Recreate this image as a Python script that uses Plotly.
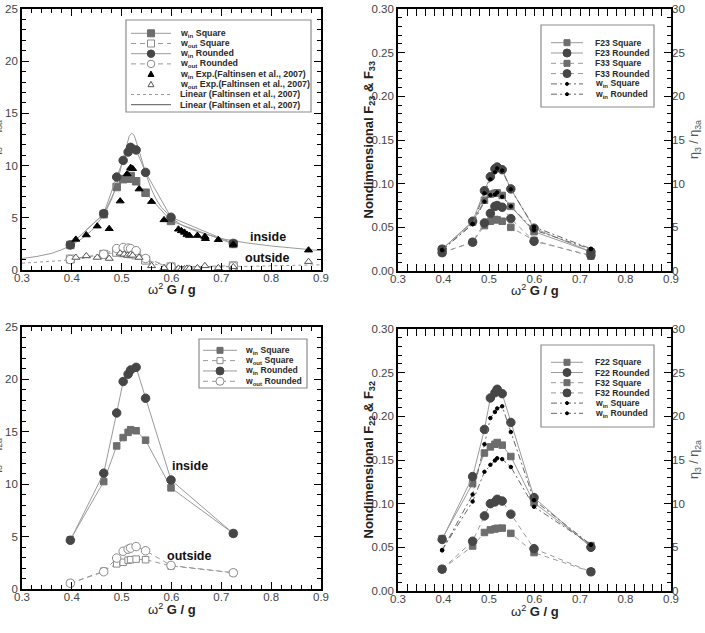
import plotly.graph_objects as go

W, H = 705, 633
FONT = "Liberation Sans, Arial, sans-serif"

# ---------------- data ----------------
x_pts = [0.397, 0.464, 0.490, 0.503, 0.513, 0.518, 0.529, 0.548, 0.599, 0.724]

# top-left : eta3 / eta3a
tl_win_sq = [2.4, 5.35, 7.95, 8.7, 8.75, 9.0, 8.5, 7.4, 4.7, 2.5]
tl_win_rd = [2.4, 5.4, 8.9, 10.5, 11.3, 11.75, 11.5, 9.35, 5.05, 2.55]
tl_wout_sq = [1.05, 1.5, 1.7, 1.65, 1.6, 1.55, 1.45, 0.95, 0.3, 0.4]
tl_wout_rd = [1.0, 1.5, 2.05, 2.15, 2.1, 2.05, 1.85, 1.1, 0.3, 0.35]

exp_in_x = [0.408, 0.429, 0.451, 0.475, 0.497, 0.511, 0.518, 0.522, 0.535, 0.560, 0.585,
            0.614, 0.620, 0.626, 0.631, 0.636, 0.652, 0.667, 0.668, 0.694, 0.724, 0.875]
exp_in_y = [2.93, 3.35, 4.2, 3.95, 6.6, 9.2, 9.8, 9.7, 7.75, 6.55, 4.8,
            3.9, 3.75, 3.6, 3.4, 3.3, 3.3, 3.2, 3.0, 2.9, 2.45, 1.9]
exp_out_x = [0.408, 0.429, 0.451, 0.475, 0.497, 0.505, 0.512, 0.518, 0.522, 0.535, 0.560,
             0.585, 0.614, 0.620, 0.626, 0.631, 0.636, 0.652, 0.667, 0.694, 0.724, 0.875]
exp_out_y = [1.2, 1.35, 1.2, 1.1, 1.6, 1.5, 1.4, 1.5, 1.4, 1.2, 0.4,
             0.2, 0.15, 0.1, 0.1, 0.15, 0.15, 0.2, 0.4, 0.2, 0.3, 0.8]

lin_x = [0.30, 0.33, 0.36, 0.38, 0.40, 0.42, 0.44, 0.46, 0.47, 0.48, 0.49, 0.50, 0.51,
         0.515, 0.52, 0.525, 0.53, 0.54, 0.55, 0.56, 0.57, 0.58, 0.60, 0.62, 0.65,
         0.70, 0.75, 0.80, 0.85, 0.90]
lin_in = [1.1, 1.3, 1.6, 1.95, 2.4, 3.0, 3.8, 5.0, 5.8, 6.8, 8.2, 10.0, 12.0,
          12.8, 13.1, 12.9, 12.2, 10.6, 9.0, 7.7, 6.7, 6.0, 5.0, 4.3, 3.7,
          3.0, 2.6, 2.3, 2.05, 1.85]
lin_out = [0.65, 0.72, 0.82, 0.9, 1.0, 1.1, 1.22, 1.38, 1.48, 1.6, 1.72, 1.85, 1.95,
           1.95, 1.9, 1.8, 1.7, 1.4, 1.0, 0.7, 0.5, 0.35, 0.2, 0.22, 0.25,
           0.3, 0.35, 0.4, 0.45, 0.5]

# top-right : F23, F33
f23_sq = [0.025, 0.056, 0.081, 0.088, 0.089, 0.0895, 0.0865, 0.074, 0.045, 0.022]
f23_rd = [0.025, 0.057, 0.092, 0.108, 0.117, 0.119, 0.116, 0.094, 0.049, 0.022]
f33_sq = [0.021, 0.033, 0.052, 0.057, 0.059, 0.0585, 0.057, 0.050, 0.035, 0.017]
f33_rd = [0.021, 0.033, 0.055, 0.066, 0.074, 0.075, 0.073, 0.060, 0.034, 0.018]

# bottom-left : eta3 / eta2a
bl_win_sq = [4.7, 10.25, 13.65, 14.45, 14.95, 15.2, 15.1, 14.2, 9.65, 5.3]
bl_win_rd = [4.65, 11.05, 16.8, 19.8, 20.5, 20.9, 21.15, 18.2, 10.4, 5.3]
bl_wout_sq = [0.55, 1.7, 2.4, 2.55, 2.75, 2.8, 2.85, 2.8, 2.2, 1.55]
bl_wout_rd = [0.55, 1.65, 2.95, 3.6, 3.8, 3.9, 4.05, 3.65, 2.25, 1.55]

# bottom-right : F22, F32
f22_sq = [0.060, 0.123, 0.158, 0.165, 0.168, 0.170, 0.167, 0.154, 0.101, 0.052]
f22_rd = [0.059, 0.131, 0.185, 0.221, 0.227, 0.231, 0.226, 0.193, 0.107, 0.050]
f32_sq = [0.025, 0.0515, 0.067, 0.070, 0.071, 0.0718, 0.072, 0.066, 0.044, 0.022]
f32_rd = [0.025, 0.057, 0.086, 0.100, 0.102, 0.105, 0.103, 0.088, 0.0485, 0.022]

x_ticks = [0.3, 0.4, 0.5, 0.6, 0.7, 0.8, 0.9]

# ---------------- styles ----------------
LINE_C = "#9a9a9a"
SQ_C = "#6d6d6d"
RD_C = "#464646"
OPEN_C = "#8a8a8a"
DASH = "5px,4px"
DASHDOT = "6px,3px,2px,3px"


def px2x(p):
    return p / W


def px2y(p):
    return 1 - p / H


fig = go.Figure()


def add(x, y, xa, ya, dash="solid", lc=LINE_C, sym=None, mc=None, ms=8,
        mlc=None, mode="lines+markers", lw=1):
    mk = dict(symbol=sym or "circle", size=ms, color=mc or "black",
              line=dict(color=mlc or (mc or "black"), width=1))
    fig.add_trace(go.Scatter(x=x, y=y, xaxis=xa, yaxis=ya, mode=mode,
                             line=dict(color=lc, width=lw, dash=dash),
                             marker=mk, showlegend=False, hoverinfo="skip"))


# top-left
add(lin_x, lin_out, "x", "y", dash="dot", mode="lines")
add(lin_x, lin_in, "x", "y", mode="lines")
add(x_pts, tl_wout_sq, "x", "y", dash=DASH, sym="square", mc="white", mlc=OPEN_C, ms=8)
add(x_pts, tl_wout_rd, "x", "y", dash=DASH, sym="circle", mc="white", mlc=OPEN_C, ms=8.5)
add(exp_out_x, exp_out_y, "x", "y", sym="triangle-up", mc="white", mlc="#555", ms=7, mode="markers")
add(x_pts, tl_win_sq, "x", "y", sym="square", mc=SQ_C, ms=7.5)
add(x_pts, tl_win_rd, "x", "y", sym="circle", mc=RD_C, ms=8.5)
add(exp_in_x, exp_in_y, "x", "y", sym="triangle-up", mc="black", ms=7, mode="markers")

# top-right
add(x_pts, f33_sq, "x2", "y2", dash=DASH, sym="square", mc=SQ_C, ms=6.5)
add(x_pts, f33_rd, "x2", "y2", dash=DASH, sym="circle", mc=RD_C, ms=8.5)
add(x_pts, f23_sq, "x2", "y2", sym="square", mc=SQ_C, ms=6.5)
add(x_pts, f23_rd, "x2", "y2", sym="circle", mc=RD_C, ms=8.5)
add(x_pts, tl_win_sq, "x2", "y5", dash=DASHDOT, lc="#666", sym="circle", mc="black", ms=3.5)
add(x_pts, tl_win_rd, "x2", "y5", dash=DASHDOT, lc="#666", sym="circle", mc="black", ms=3.5)

# bottom-left
add(x_pts, bl_wout_sq, "x3", "y3", dash=DASH, sym="square", mc="white", mlc=OPEN_C, ms=6.5)
add(x_pts, bl_wout_rd, "x3", "y3", dash=DASH, sym="circle", mc="white", mlc=OPEN_C, ms=8.5)
add(x_pts, bl_win_sq, "x3", "y3", sym="square", mc=SQ_C, ms=6.5)
add(x_pts, bl_win_rd, "x3", "y3", sym="circle", mc=RD_C, ms=8.5)

# bottom-right
add(x_pts, f32_sq, "x4", "y4", dash=DASH, sym="square", mc=SQ_C, ms=6.5)
add(x_pts, f32_rd, "x4", "y4", dash=DASH, sym="circle", mc=RD_C, ms=8.5)
add(x_pts, f22_sq, "x4", "y4", sym="square", mc=SQ_C, ms=6.5)
add(x_pts, f22_rd, "x4", "y4", sym="circle", mc=RD_C, ms=8.5)
add(x_pts, bl_win_sq, "x4", "y6", dash=DASHDOT, lc="#666", sym="circle", mc="black", ms=3.5)
add(x_pts, bl_win_rd, "x4", "y6", dash=DASHDOT, lc="#666", sym="circle", mc="black", ms=3.5)

# ---------------- axes ----------------
TICKFONT = dict(family=FONT, size=11.5, color="#444")


def xax(dom, anchor):
    return dict(domain=dom, anchor=anchor, range=[0.3, 0.9], tickvals=x_ticks,
                tickformat=".1f", ticks="inside", ticklen=7, tickwidth=1.2,
                tickcolor="black", showline=True, linecolor="black", linewidth=1.6,
                mirror="allticks", showgrid=False, zeroline=False, tickfont=TICKFONT,
                automargin=False, ticklabelstandoff=-4,
                minor=dict(dtick=0.02, tick0=0.3, ticks="inside", ticklen=4,
                           tickcolor="black", tickwidth=1, showgrid=False))


def yax(dom, anchor, rng, dtick, mdt, fmt):
    return dict(domain=dom, anchor=anchor, range=rng, dtick=dtick, tick0=0,
                tickformat=fmt, ticks="inside", ticklen=7, tickwidth=1.2,
                tickcolor="black", showline=True, linecolor="black", linewidth=1.6,
                mirror="allticks", showgrid=False, zeroline=False, tickfont=TICKFONT,
                automargin=False,
                minor=dict(dtick=mdt, tick0=0, ticks="inside", ticklen=4,
                           tickcolor="black", tickwidth=1, showgrid=False))


def y2ax(over, anchor):
    return dict(overlaying=over, anchor=anchor, side="right", range=[0, 30], dtick=5,
                tick0=0, ticks="", showline=False, showgrid=False, zeroline=False,
                tickfont=TICKFONT, automargin=False)


XL = [px2x(22), px2x(321)]
XR = [px2x(398), px2x(671)]
YT_L = [px2y(270), px2y(9)]
YT_R = [px2y(271), px2y(9)]
YB_L = [px2y(589), px2y(327)]
YB_R = [px2y(591), px2y(329)]

fig.update_layout(
    width=W, height=H, autosize=False,
    margin=dict(l=0, r=0, t=0, b=0, pad=0),
    paper_bgcolor="white", plot_bgcolor="white",
    xaxis=xax(XL, "y"), yaxis=yax(YT_L, "x", [0, 25], 5, 1, "d"),
    xaxis2=xax(XR, "y2"), yaxis2=yax(YT_R, "x2", [0, 0.30], 0.05, 0.01, ".2f"),
    xaxis3=xax(XL, "y3"), yaxis3=yax(YB_L, "x3", [0, 25], 5, 1, "d"),
    xaxis4=xax(XR, "y4"), yaxis4=yax(YB_R, "x4", [0, 0.30], 0.05, 0.01, ".2f"),
    yaxis5=y2ax("y2", "x2"),
    yaxis6=y2ax("y4", "x4"),
)

ann = []
shapes = []


def text(px, py, t, size=13, color="#222", angle=0, xanchor="center", bold=False, xshift=0):
    ann.append(dict(x=px2x(px), y=px2y(py), xref="paper", yref="paper", text=t,
                    showarrow=False, textangle=angle, xanchor=xanchor, yanchor="middle",
                    xshift=xshift,
                    font=dict(family=FONT, size=size, color=color,
                              weight="bold" if bold else "normal")))


# axis titles
for cx, cy in [(171.5, 289), (534.5, 290), (171.5, 609), (534.5, 611)]:
    text(cx, cy, "ω<sup>2</sup> <b>G / g</b>", size=13)
text(368.5, 140, "Nondimensional F<sub>23</sub> &amp; F<sub>33</sub>", size=13, angle=-90, bold=True)
text(368.5, 460, "Nondimensional F<sub>22</sub> &amp; F<sub>32</sub>", size=13, angle=-90, bold=True)
text(695, 140, "η<sub>3</sub> / η<sub>3a</sub>", size=12.5, color="#555", angle=-90)
text(695, 460, "η<sub>3</sub> / η<sub>2a</sub>", size=12.5, color="#555", angle=-90)
text(0, 140, "η<sub>3</sub> / η<sub>3a</sub>", size=12.5, color="#555", angle=-90, xshift=-4)
text(0, 458, "η<sub>3</sub> / η<sub>2a</sub>", size=12.5, color="#555", angle=-90, xshift=-4)

# inside / outside labels (data coords)
for xr, yr, xv, yv, t in [("x", "y", 0.793, 3.13, "inside"), ("x", "y", 0.792, 1.18, "outside"),
                          ("x3", "y3", 0.638, 11.77, "inside"), ("x3", "y3", 0.635, 3.18, "outside")]:
    ann.append(dict(x=xv, y=yv, xref=xr, yref=yr, text="<b>%s</b>" % t, showarrow=False,
                    font=dict(family=FONT, size=12.5, color="#111")))


# ---------------- legends (drawn as keys) ----------------
def legend(box, row0, dy, lx0, lx1, tx, entries, fsize):
    x0, y0, x1, y1 = box
    shapes.append(dict(type="rect", xref="paper", yref="paper", x0=px2x(x0), x1=px2x(x1),
                       y0=px2y(y1), y1=px2y(y0), line=dict(color="#8c8c8c", width=1.2),
                       fillcolor="white", layer="above"))
    cx = (lx0 + lx1) / 2
    for i, (lab, dash, lc, sym, fc, oc, s) in enumerate(entries):
        ry = row0 + i * dy
        if dash is not None:
            shapes.append(dict(type="line", xref="paper", yref="paper", x0=px2x(lx0),
                               x1=px2x(lx1), y0=px2y(ry), y1=px2y(ry),
                               line=dict(color=lc, width=1, dash=dash), layer="above"))
        if sym is not None:
            h = s / 2
            common = dict(xref="paper", yref="paper", fillcolor=fc,
                          line=dict(color=oc, width=1), layer="above")
            if sym == "square":
                shapes.append(dict(type="rect", x0=px2x(cx - h), x1=px2x(cx + h),
                                   y0=px2y(ry + h), y1=px2y(ry - h), **common))
            elif sym == "circle":
                shapes.append(dict(type="circle", x0=px2x(cx - h), x1=px2x(cx + h),
                                   y0=px2y(ry + h), y1=px2y(ry - h), **common))
            else:
                p = "M %f,%f L %f,%f L %f,%f Z" % (px2x(cx - h), px2y(ry + h * 0.8),
                                                    px2x(cx + h), px2y(ry + h * 0.8),
                                                    px2x(cx), px2y(ry - h))
                shapes.append(dict(type="path", path=p, **common))
        ann.append(dict(x=px2x(tx), y=px2y(ry), xref="paper", yref="paper", text=lab,
                        showarrow=False, xanchor="left", yanchor="middle",
                        font=dict(family=FONT, size=fsize, color="#2a2a2a", weight="bold")))


legend((126, 20, 311, 112), 33.3, 10.2, 131, 171, 178, [
    ("w<sub>in</sub> Square", "solid", LINE_C, "square", SQ_C, SQ_C, 7),
    ("w<sub>out</sub> Square", DASH, LINE_C, "square", "white", OPEN_C, 7),
    ("w<sub>in</sub> Rounded", "solid", LINE_C, "circle", RD_C, RD_C, 7.5),
    ("w<sub>out</sub> Rounded", DASH, LINE_C, "circle", "white", OPEN_C, 7.5),
    ("w<sub>in</sub> Exp.(Faltinsen et al., 2007)", None, None, "tri", "black", "black", 6),
    ("w<sub>out</sub> Exp.(Faltinsen et al., 2007)", None, None, "tri", "white", "#555", 6),
    ("Linear (Faltinsen et al., 2007)", "dot", LINE_C, None, None, None, 0),
    ("Linear (Faltinsen et al., 2007)", "solid", "#555", None, None, None, 0),
], 8.8)

legend((541, 25, 654, 107), 42.7, 10.3, 551, 583, 592.7, [
    ("F23 Square", "solid", LINE_C, "square", SQ_C, SQ_C, 6),
    ("F23 Rounded", "solid", LINE_C, "circle", RD_C, RD_C, 8),
    ("F33 Square", DASH, LINE_C, "square", SQ_C, SQ_C, 6),
    ("F33 Rounded", DASH, LINE_C, "circle", RD_C, RD_C, 8),
    ("w<sub>in</sub> Square", DASHDOT, "#666", "circle", "black", "black", 3),
    ("w<sub>in</sub> Rounded", DASHDOT, "#666", "circle", "black", "black", 3),
], 8.6)

legend((541, 345, 654, 427), 362.3, 10.2, 551, 583, 592.7, [
    ("F22 Square", "solid", LINE_C, "square", SQ_C, SQ_C, 6),
    ("F22 Rounded", "solid", LINE_C, "circle", RD_C, RD_C, 8),
    ("F32 Square", DASH, LINE_C, "square", SQ_C, SQ_C, 6),
    ("F32 Rounded", DASH, LINE_C, "circle", RD_C, RD_C, 8),
    ("w<sub>in</sub> Square", DASHDOT, "#666", "circle", "black", "black", 3),
    ("w<sub>in</sub> Rounded", DASHDOT, "#666", "circle", "black", "black", 3),
], 8.6)

legend((199, 339, 307, 388), 350.3, 10.33, 203, 237, 242.7, [
    ("w<sub>in</sub> Square", "solid", LINE_C, "square", SQ_C, SQ_C, 6),
    ("w<sub>out</sub> Square", DASH, LINE_C, "square", "white", OPEN_C, 6),
    ("w<sub>in</sub> Rounded", "solid", LINE_C, "circle", RD_C, RD_C, 8),
    ("w<sub>out</sub> Rounded", DASH, LINE_C, "circle", "white", OPEN_C, 8),
], 8.6)

fig.update_layout(annotations=ann, shapes=shapes)
fig.write_html("out.html")
